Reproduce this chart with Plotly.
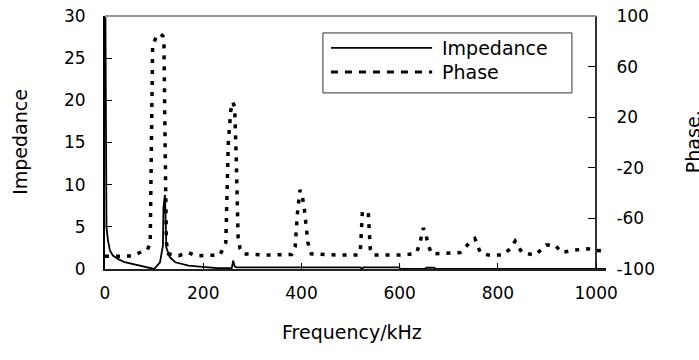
import plotly.graph_objects as go

# ---------------- data ----------------
freq_imp = [0, 3, 6, 10, 16, 26, 40, 61, 81, 91, 100, 112, 118, 119, 122, 125,
            132, 143, 170, 198, 230, 258, 261, 264, 268, 300, 400, 520, 523, 526,
            598, 602, 650, 655, 670, 674, 800, 1020]
impedance = [40, 5.0, 3.4, 2.2, 1.6, 1.2, 0.8, 0.5, 0.3, 0.1, 0.0, 0.8, 2.8, 7.3, 8.8, 2.5,
             1.4, 0.8, 0.4, 0.25, 0.1, 0.1, 1.0, 0.3, 0.2, 0.2, 0.2, 0.2, 0.0, 0.2,
             0.2, 0.0, 0.0, 0.15, 0.15, 0.0, 0.0, 0.0]

freq_ph = [0, 30, 55, 77, 86, 92, 95, 97, 105, 112, 118, 120, 123, 125, 129,
           150, 169, 185, 234, 246, 251, 256, 260, 264, 267, 271, 275, 281,
           330, 380, 387, 392, 397, 402, 406, 410, 413, 420,
           470, 515, 520, 524, 530, 536, 540, 546,
           600, 630, 635, 642, 648, 653, 657, 665,
           723, 743, 753, 760, 764, 780, 810, 825, 835, 849, 876, 898, 916, 930,
           957, 984, 992, 1020]
phase = [-90, -90, -89.7, -86, -85, -80, 20, 77, 84, 86, 84, 77, -20, -79, -88,
         -89.5, -87, -89.5, -89, -79, 0, 25, 32, 28, -10, -75, -84, -88,
         -89, -88.5, -82.6, -55, -37.5, -43, -53, -71, -79, -88,
         -89, -89, -85, -55, -55, -55, -84, -89,
         -89, -88, -86.6, -78, -67.6, -71.5, -80, -88,
         -87, -79, -76, -84, -87, -89, -89, -84, -78, -87, -89, -81, -81, -87,
         -85, -84, -85, -86]

x_ticks = [0, 200, 400, 600, 800, 1000]
imp_ticks = [0, 5, 10, 15, 20, 25, 30]
phase_ticks = [-100, -60, -20, 20, 60, 100]
phase_tick_text = ["-100", "-60", "-20", "20", "60", "100"]

FONT = "DejaVu Sans"
fig = go.Figure()
fig.add_trace(go.Scatter(x=freq_imp, y=impedance, mode="lines", name="Impedance",
                         line=dict(color="black", width=1.8), yaxis="y", showlegend=False))
fig.add_trace(go.Scatter(x=freq_ph, y=phase, mode="lines", name="Phase",
                         line=dict(color="black", width=3.5, dash="4px,7px"),
                         yaxis="y2", showlegend=False))

axis_common = dict(showgrid=False, zeroline=False, ticks="inside", automargin=False,
                   ticklabeloverflow="allow",
                   tickcolor="black", tickfont=dict(family=FONT, size=17, color="black"))
fig.update_layout(
    width=699, height=360,
    margin=dict(l=105, r=93, t=16, b=91, autoexpand=False),
    paper_bgcolor="white", plot_bgcolor="white",
    xaxis=dict(range=[0, 1020], tickvals=x_ticks, ticklen=6, showline=True,
               linecolor="#222", linewidth=2, ticklabelstandoff=8, **axis_common),
    yaxis=dict(range=[0, 30], tickvals=imp_ticks, ticklen=7, showline=True,
               linecolor="black", linewidth=2, ticklabelstandoff=14, **axis_common),
    yaxis2=dict(range=[-100, 100], tickvals=phase_ticks, ticktext=phase_tick_text,
                overlaying="y", side="right",
                anchor="free", position=0.98, ticklen=7, showline=True,
                linecolor="#333", linewidth=2, ticklabelstandoff=16, **axis_common),
)

shapes = [
    # top border
    dict(type="line", xref="x", yref="paper", x0=0, x1=1000, y0=1, y1=1,
         line=dict(color="#999", width=2)),
    # legend box
    dict(type="rect", xref="paper", yref="paper", x0=0.435, x1=0.932, y0=0.696, y1=0.933,
         line=dict(color="#333", width=1), fillcolor="white"),
    dict(type="line", xref="paper", yref="paper", x0=0.451, x1=0.653, y0=0.874, y1=0.874,
         line=dict(color="black", width=1.8)),
    dict(type="line", xref="paper", yref="paper", x0=0.451, x1=0.653, y0=0.779, y1=0.779,
         line=dict(color="black", width=3, dash="7px,7px")),
]
fig.update_layout(shapes=shapes)

tf = dict(family=FONT, size=19, color="black")
annotations = [
    dict(text="Impedance", xref="paper", yref="paper", x=-0.17, y=0.502, textangle=-90,
         showarrow=False, font=tf, xanchor="center", yanchor="middle"),
    dict(text="Frequency/kHz", xref="paper", yref="paper", x=0.493, y=-0.249,
         showarrow=False, font=tf, xanchor="center", yanchor="middle"),
    dict(text="Phase,", xref="paper", yref="paper", x=1.148, y=0.502, textangle=-90,
         showarrow=False, font=tf, xanchor="left", yanchor="middle"),
    dict(text="Impedance", xref="paper", yref="paper", x=0.669, y=0.874,
         showarrow=False, font=tf, xanchor="left", yanchor="middle"),
    dict(text="Phase", xref="paper", yref="paper", x=0.669, y=0.779,
         showarrow=False, font=tf, xanchor="left", yanchor="middle"),
]
fig.update_layout(annotations=annotations)

# remove the default page margin so the figure fills the window exactly
fig.write_html("out.html", config={"displayModeBar": False},
               post_script="document.body.style.margin='0';")
